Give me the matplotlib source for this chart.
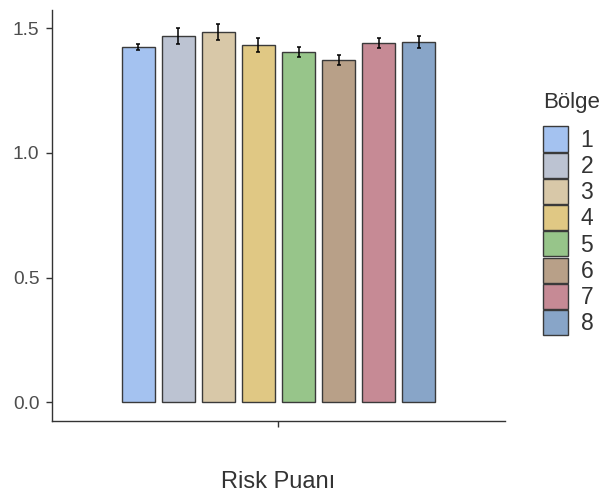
import matplotlib
matplotlib.use("Agg")
import matplotlib.pyplot as plt
from matplotlib.patches import Patch
import numpy as np

plt.rcParams['font.family'] = ['Liberation Sans', 'DejaVu Sans']

regions = ["1", "2", "3", "4", "5", "6", "7", "8"]
means = [1.426, 1.470, 1.486, 1.434, 1.406, 1.373, 1.442, 1.446]
errors = [0.012, 0.033, 0.033, 0.029, 0.019, 0.019, 0.021, 0.023]
colors = ["#A4C2F0", "#BCC3D2", "#D8C8A8", "#E0C884", "#97C58A",
          "#B8A088", "#C68A95", "#88A5C8"]
xlabel = "Risk Puanı"
legend_title = "Bölge"

fig = plt.figure(figsize=(6.03, 4.95), dpi=100)
ax = fig.add_axes([0.0862, 0.1495, 0.7513, 0.8303])

n = len(regions)
dodge = 0.106
width = 0.0875
offsets = (np.arange(n) - (n - 1) / 2) * dodge
for i in range(n):
    ax.bar(1 + offsets[i], means[i], width=width, color=colors[i],
           edgecolor="#3a3a3a", linewidth=1.0, zorder=2)
    ax.errorbar(1 + offsets[i], means[i], yerr=errors[i], fmt="none",
                ecolor="black", elinewidth=1.1, capsize=1.6, capthick=1.1,
                zorder=3)

ax.set_xlim(0.4, 1.6)
ax.set_ylim(-0.076, 1.574)
ax.set_xticks([1])
ax.set_xticklabels([""])
ax.set_yticks([0.0, 0.5, 1.0, 1.5])
ax.set_yticklabels(["0.0", "0.5", "1.0", "1.5"])
ax.tick_params(axis="both", colors="#333333", labelcolor="#4D4D4D",
               labelsize=13.8, length=4, width=1, pad=5)
for s in ["top", "right"]:
    ax.spines[s].set_visible(False)
for s in ["left", "bottom"]:
    ax.spines[s].set_color("#333333")
    ax.spines[s].set_linewidth(1.0)
ax.set_xlabel(xlabel, fontsize=17, color="#333333")
ax.xaxis.set_label_coords(0.5, -0.1226)

# legend title
fig.text(543 / 603, 1 - 108.3 / 495, legend_title, fontsize=16,
         color="#333333", ha="left", va="baseline")

handles = [Patch(facecolor=c, edgecolor="#3a3a3a", linewidth=1.0) for c in colors]
leg = fig.legend(handles, regions,
                 loc="upper left", bbox_to_anchor=(543 / 603, 1 - 126.5 / 495),
                 frameon=False, fontsize=16.5,
                 handlelength=1.09, handleheight=1.303, labelspacing=0.045,
                 handletextpad=0.55, borderaxespad=0, borderpad=0)
for t in leg.get_texts():
    t.set_color("#333333")

fig.savefig("out.png", dpi=100)
